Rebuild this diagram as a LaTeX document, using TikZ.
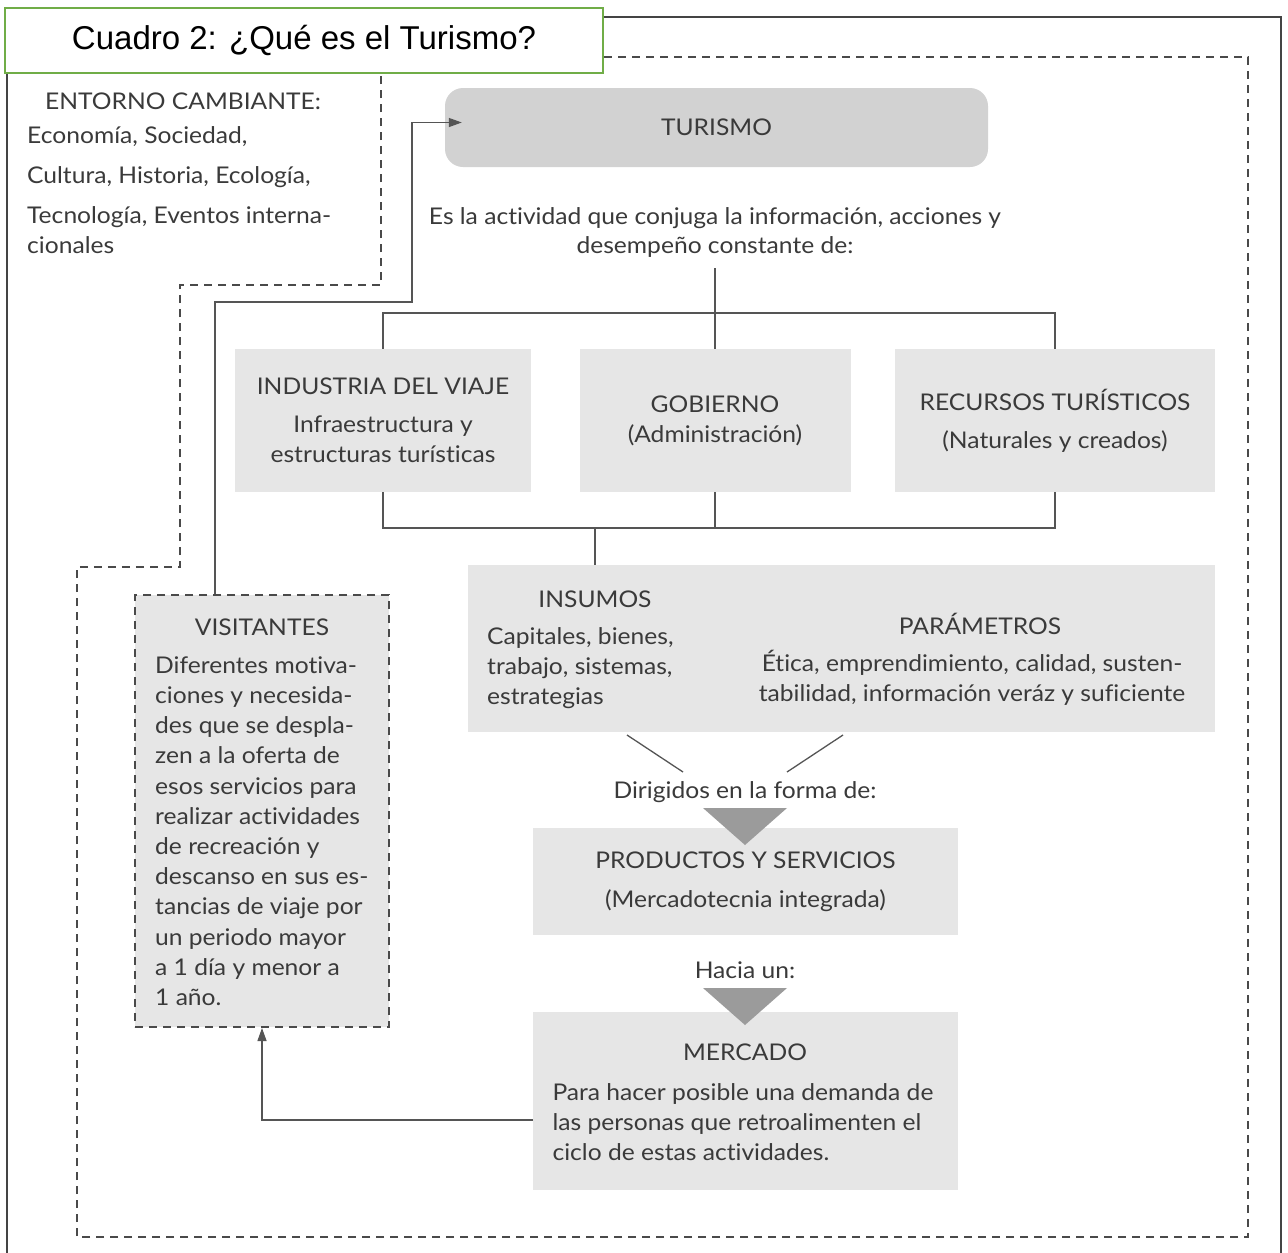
\documentclass[tikz,border=0pt]{standalone}
\usepackage{fontspec}
\setmainfont{Lato}[FakeStretch=1.07, Ligatures=NoCommon]
\newfontfamily\titlefont{Liberation Sans}
\usetikzlibrary{arrows.meta,calc}
\definecolor{txtc}{HTML}{3A3A3A}
\definecolor{boxg}{HTML}{E6E6E6}
\definecolor{turg}{HTML}{D2D2D2}
\definecolor{trig}{HTML}{9B9B9B}
\definecolor{linec}{HTML}{555555}
\definecolor{dashc}{HTML}{4A4A4A}
\definecolor{framec}{HTML}{444444}
\definecolor{titleg}{HTML}{70AD47}
\begin{document}
\begin{tikzpicture}[x=1pt,y=-1pt,
  box/.style={fill=boxg, draw=none, inner sep=0pt, text=txtc, align=center,
    font=\fontsize{23}{30}\selectfont},
  tx/.style={text=txtc, inner sep=0pt, font=\fontsize{23}{30}\selectfont},
  dsh/.style={draw=dashc, line width=2pt, dash pattern=on 8pt off 6pt},
  ln/.style={draw=linec, line width=1.3pt},
  arr/.style={ln, -{Triangle[length=13pt,width=9pt]}},
  tri/.style={fill=trig, draw=none}]
\useasboundingbox (0,0) rectangle (1288,1253);
\fill[white] (0,0) rectangle (1288,1253);

% outer solid frame
\draw[draw=framec, line width=2.5pt] (7,1265) -- (7,17) -- (1281,17) -- (1281,1265);

% dashed region
\draw[dsh] (590,57) -- (1248,57) -- (1248,1237) -- (77,1237) -- (77,567)
  -- (180,567) -- (180,285) -- (381,285) -- (381,70);

% title
\node[draw=titleg, line width=2.2pt, fill=white, minimum width=598pt, minimum height=65pt,
  inner sep=0pt, font=\titlefont\fontsize{33}{36}\selectfont, text=black] (title) at (304,40.5)
  {Cuadro 2: ¿Qué es el Turismo?};

% entorno text
\node[tx, anchor=base west] (ent0) at (45,109) {ENTORNO CAMBIANTE:};
\node[tx, anchor=base west] (ent1) at (27,143) {Economía, Sociedad,};
\node[tx, anchor=base west] (ent2) at (27,183) {Cultura, Historia, Ecología,};
\node[tx, anchor=base west] (ent3) at (27,223) {Tecnología, Eventos interna-};
\node[tx, anchor=base west] (ent4) at (27,253) {cionales};

% turismo
\node[fill=turg, rounded corners=18pt, minimum width=543pt, minimum height=79pt, inner sep=0pt,
  text=txtc, font=\fontsize{23}{30}\selectfont] (tur) at (716.5,127.5) {TURISMO};

\node[tx, align=center, font=\fontsize{23}{29}\selectfont] (desc) at (715,232.5)
  {Es la actividad que conjuga la información, acciones y\\desempeño constante de:};

% three boxes
\node[box, minimum width=296pt, minimum height=143pt] (ind) at (383,420.5)
  {INDUSTRIA DEL VIAJE\\[8pt]Infraestructura y\\estructuras turísticas};
\node[box, minimum width=271pt, minimum height=143pt] (gob) at (715,420.5)
  {GOBIERNO\\(Administración)};
\node[box, minimum width=320pt, minimum height=143pt] (rec) at (1055,420.5)
  {RECURSOS TURÍSTICOS\\[8pt](Naturales y creados)};

% connectors top
\coordinate (dtop) at (715,268);
\coordinate (bar1) at (715,313);
\draw[ln] (dtop) -- (gob.north);
\draw[ln] (ind.north) |- (bar1) -| (rec.north);
\coordinate (bar2) at (715,528);
\draw[ln] (ind.south) |- (bar2) -| (rec.south);
\draw[ln] (gob.south) -- (bar2);

% insumos / parametros
\node[box, minimum width=747pt, minimum height=167pt] (ins) at (841.5,648.5) {};
\coordinate (insin) at (595,528);
\draw[ln] (insin) -- (insin |- ins.north);
\node[tx] (insT) at (595,599) {INSUMOS};
\node[tx, align=left, anchor=west] (insB) at (487,668)
  {Capitales, bienes,\\trabajo, sistemas,\\estrategias};
\node[tx] (parT) at (980,624) {PARÁMETROS};
\node[tx, align=center] (parB) at (972,678)
  {Ética, emprendimiento, calidad, susten-\\tabilidad, información veráz y suficiente};

% diagonals
\coordinate (dg1a) at (627,735); \coordinate (dg1b) at (683,772);
\coordinate (dg2a) at (843,735); \coordinate (dg2b) at (787,772);
\draw[ln] (dg1a) -- (dg1b);
\draw[ln] (dg2a) -- (dg2b);

\node[tx] (dir) at (745,792) {Dirigidos en la forma de:};

% productos
\node[box, minimum width=425pt, minimum height=107pt] (prod) at (745.5,881.5)
  {PRODUCTOS Y SERVICIOS\\[9pt](Mercadotecnia integrada)};
\fill[tri] (703,808) -- (787,808) -- (745,845) -- cycle;

\node[tx] (hacia) at (745,970) {Hacia un:};

% mercado
\node[box, minimum width=425pt, minimum height=178pt] (mer) at (745.5,1101) {};
\fill[tri] (703,988) -- (787,988) -- (745,1025) -- cycle;
\node[tx] (merT) at (745,1052) {MERCADO};
\node[tx, align=left] (merB) at (743,1122)
  {Para hacer posible una demanda de\\las personas que retroalimenten el\\ciclo de estas actividades.};

% visitantes
\node[box, dsh, minimum width=254pt, minimum height=432pt] (vis) at (262,811) {};
\node[tx] (visT) at (262,627) {VISITANTES};
\node[tx, align=left, anchor=west, font=\fontsize{23}{30.2}\selectfont] (visB) at (155,831)
  {Diferentes motiva-\\ciones y necesida-\\des que se despla-\\zen a la oferta de\\esos servicios para\\realizar actividades\\de recreación y\\descanso en sus es-\\tancias de viaje por\\un periodo mayor\\a 1 día y menor a\\1 año.};

% feedback arrows
\coordinate (fb) at (533,1120);
\draw[arr] (fb) -| (vis.south);
\coordinate (up1) at (215,302);
\coordinate (up2) at (412,302);
\draw[arr] (vis.north -| up1) -- (up1) -- (up2) |- ($(tur.west)+(17,-5)$);
\end{tikzpicture}
\end{document}
